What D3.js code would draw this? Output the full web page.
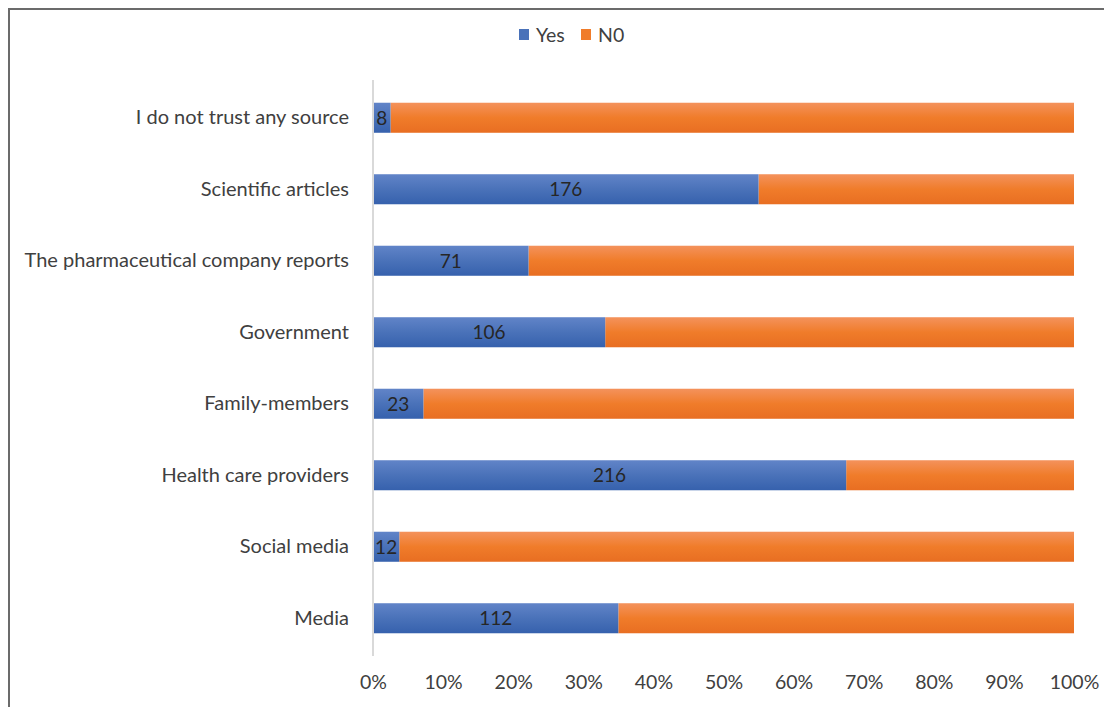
<!DOCTYPE html>
<html><head><meta charset="utf-8">
<script src="https://cdn.jsdelivr.net/npm/d3@7"></script>
<style>
body{margin:0;background:#fff;}
svg{display:block;font-family:Lato,"Open Sans",sans-serif;}
</style></head>
<body>
<svg id="c" width="1104" height="707"></svg>
<script>
const categories = ["I do not trust any source","Scientific articles","The pharmaceutical company reports","Government","Family-members","Health care providers","Social media","Media"];
const yesValues = [8,176,71,106,23,216,12,112];
const noValues = [312,144,249,214,297,104,308,208];
const tickLabels = ["0%","10%","20%","30%","40%","50%","60%","70%","80%","90%","100%"];
const seriesNames = ["Yes","N0"];

const svg = d3.select("#c");
const defs = svg.append("defs");
function grad(id, c1, c2, c3){
  const g = defs.append("linearGradient").attr("id",id).attr("x1",0).attr("x2",0).attr("y1",0).attr("y2",1);
  g.append("stop").attr("offset","0%").attr("stop-color",c1);
  g.append("stop").attr("offset","50%").attr("stop-color",c2);
  g.append("stop").attr("offset","100%").attr("stop-color",c3);
}
grad("gy","#6184c8","#4a72b9","#3661ad");
grad("gn","#f4925c","#f07c2a","#e86e22");

// frame
svg.append("path").attr("d","M9,707 V9 H1104").attr("fill","none").attr("stroke","#6b6b6b").attr("stroke-width",2);

const x = d3.scaleLinear().domain([0,1]).range([373,1074]);
const y = d3.scaleBand().domain(categories).range([82,654]).paddingInner(0.58).paddingOuter(0.29);

const data = categories.map((c,i)=>{const t=yesValues[i]+noValues[i];return {c, yes:yesValues[i]/t, no:noValues[i]/t, yv:yesValues[i]};});

// bars
const g = svg.append("g");
g.selectAll(".no").data(data).join("rect")
  .attr("x",d=>x(d.yes)).attr("y",d=>y(d.c)).attr("width",d=>x(1)-x(d.yes)).attr("height",y.bandwidth())
  .attr("fill","url(#gn)");
g.selectAll(".yes").data(data).join("rect")
  .attr("x",x(0)).attr("y",d=>y(d.c)).attr("width",d=>x(d.yes)-x(0)).attr("height",y.bandwidth())
  .attr("fill","url(#gy)");

// axis line
svg.append("line").attr("x1",x(0)).attr("x2",x(0)).attr("y1",80).attr("y2",656).attr("stroke","#d9d9d9").attr("stroke-width",2);

// data labels
g.selectAll(".lab").data(data).join("text")
  .attr("x",d=>(x(0)+x(d.yes))/2).attr("y",d=>y(d.c)+y.bandwidth()/2+7)
  .attr("text-anchor","middle").attr("font-size",19).attr("fill","#262626").text(d=>d.yv);

// category labels
const yAxis = d3.axisLeft(y).tickSize(0).tickPadding(24);
const ya = svg.append("g").attr("transform",`translate(${x(0)},0)`).call(yAxis);
ya.select(".domain").remove();
ya.selectAll("text").attr("font-size",20).attr("fill","#404040").attr("font-family","Lato,'Open Sans',sans-serif");

// x axis
const xAxis = d3.axisBottom(x).tickValues(d3.range(0,11).map(i=>i/10)).tickFormat((d,i)=>tickLabels[i]).tickSize(0).tickPadding(0);
const xa = svg.append("g").attr("transform","translate(0,675)").call(xAxis);
xa.select(".domain").remove();
xa.selectAll("text").attr("font-size",19.5).attr("fill","#404040").attr("font-family","Lato,'Open Sans',sans-serif");

// legend
const colors = ["#4a72b9","#f07c2a"];
const lx = [519,581];
seriesNames.forEach((s,i)=>{
  svg.append("rect").attr("x",lx[i]).attr("y",29).attr("width",10).attr("height",11).attr("fill",colors[i]);
  svg.append("text").attr("x",lx[i]+17).attr("y",42).attr("font-size",19.5).attr("fill","#404040").text(s);
});
</script>
</body></html>
